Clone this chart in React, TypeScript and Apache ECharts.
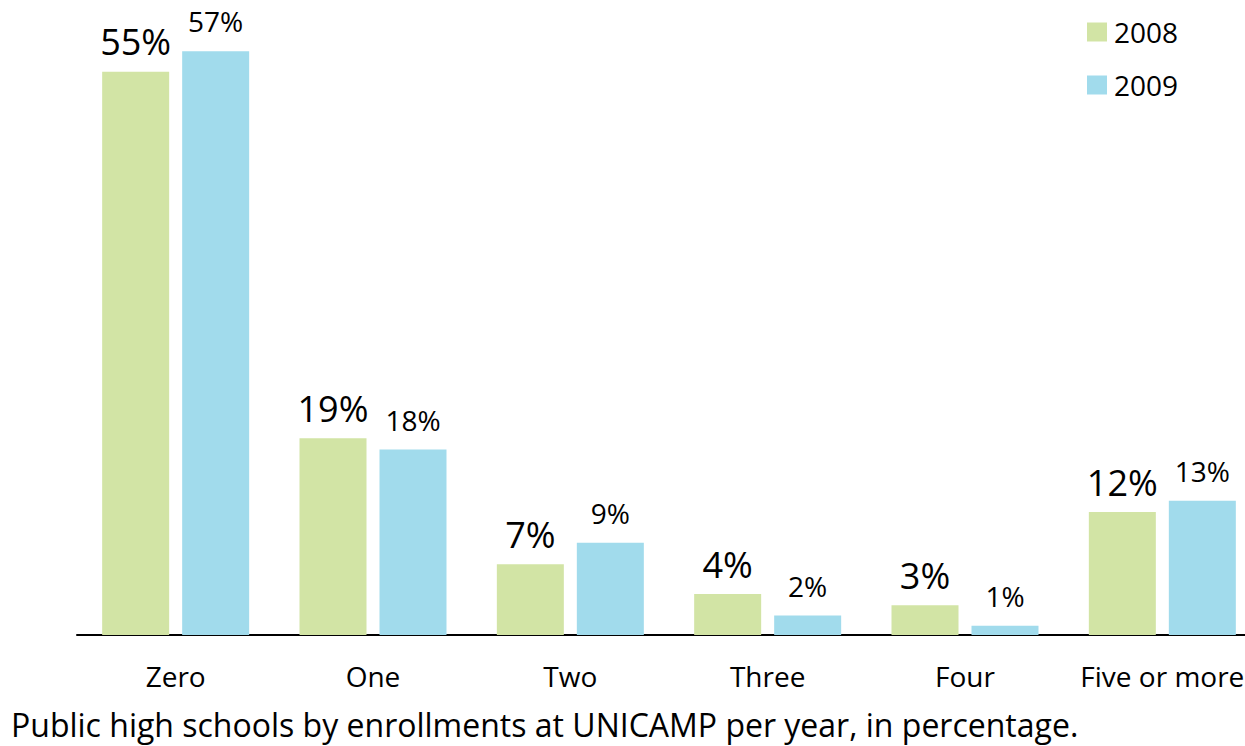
import React, { useEffect, useRef } from "react";
import * as echarts from "echarts";

const categories = ["Zero", "One", "Two", "Three", "Four", "Five or more"];
const seriesNames = ["2008", "2009"];
const values2008 = [55, 19.2, 6.9, 4.0, 2.9, 12.0];
const values2009 = [57, 18.1, 9.0, 1.9, 0.9, 13.1];
const labels2008 = ["55%", "19%", "7%", "4%", "3%", "12%"];
const labels2009 = ["57%", "18%", "9%", "2%", "1%", "13%"];
const caption = "Public high schools by enrollments at UNICAMP per year, in percentage.";

const FONT = "'Open Sans', 'Noto Sans', sans-serif";

export default function App() {
  const ref = useRef<HTMLDivElement>(null);
  useEffect(() => {
    if (!ref.current) return;
    const chart = echarts.init(ref.current, null, { renderer: "svg" });
    chart.setOption({
      animation: false,
      backgroundColor: "#ffffff",
      textStyle: { fontFamily: FONT },
      title: {
        text: caption,
        left: 11,
        top: 708,
        padding: 0,
        textStyle: { fontFamily: FONT, fontSize: 32, fontWeight: "normal", color: "#000" },
      },
      legend: {
        data: seriesNames,
        orient: "vertical",
        left: 1087,
        top: 18,
        itemWidth: 20,
        itemHeight: 19,
        itemGap: 25,
        icon: "rect",
        padding: 0,
        textStyle: { fontFamily: FONT, fontSize: 28, color: "#000", padding: [0, 0, 0, 2] },
      },
      grid: { left: 77, right: 0, top: 0, bottom: 111, containLabel: false },
      xAxis: {
        type: "category",
        data: categories,
        axisLine: { lineStyle: { color: "#000", width: 2 } },
        axisTick: { show: false },
        axisLabel: { fontFamily: FONT, fontSize: 28, color: "#000", margin: 27, interval: 0 },
      },
      yAxis: { type: "value", min: 0, max: 62, show: false, splitLine: { show: false } },
      series: [
        {
          name: seriesNames[0],
          type: "bar",
          data: values2008,
          barWidth: 67,
          barGap: "19.4%",
          itemStyle: { color: "#d2e4a5" },
          label: {
            show: true,
            position: "top",
            distance: 12,
            fontFamily: FONT,
            fontSize: 36,
            color: "#000",
            formatter: (p: any) => labels2008[p.dataIndex],
          },
        },
        {
          name: seriesNames[1],
          type: "bar",
          data: values2009,
          barWidth: 67,
          itemStyle: { color: "#a1dbec" },
          label: {
            show: true,
            position: "top",
            distance: 16,
            fontFamily: FONT,
            fontSize: 28,
            color: "#000",
            formatter: (p: any) => labels2009[p.dataIndex],
          },
        },
      ],
    });
    return () => chart.dispose();
  }, []);
  return (
    <div style={{ position: "fixed", left: 0, top: 0, width: 1245, height: 746, overflow: "hidden" }}>
      <div ref={ref} style={{ position: "absolute", left: 0, top: 0, width: 1261, height: 746 }} />
    </div>
  );
}
